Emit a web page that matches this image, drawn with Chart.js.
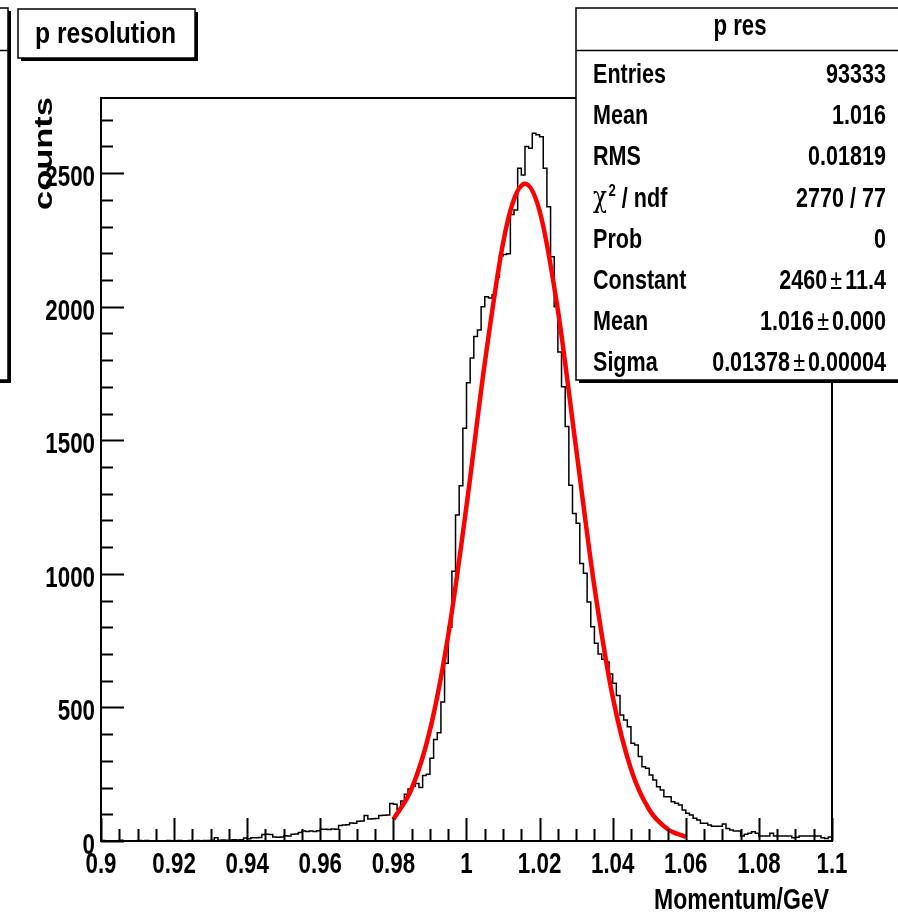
<!DOCTYPE html>
<html>
<head>
<meta charset="utf-8">
<title>p resolution</title>
<script src="https://cdn.jsdelivr.net/npm/chart.js@4.4.1/dist/chart.umd.min.js"></script>
<style>
  html, body { margin: 0; padding: 0; background: #fff; }
  canvas { display: block; }
</style>
</head>
<body>
<canvas id="chart" width="898" height="916"></canvas>
<script>
// histogram: 200 bins from 0.9 to 1.1
const binLow = 0.9;
const binWidth = 0.001;
const counts = [
    2, 1, 0, 1, 0, 3, 1, 0, 0, 1,
    2, 1, 2, 0, 1, 0, 1, 0, 2, 1,
    1, 2, 1, 1, 2, 1, 2, 1, 2, 2,
    3, 12, 3, 4, 3, 4, 5, 4, 5, 11,
    8, 12, 12, 13, 24, 25, 24, 15, 14, 15,
    20, 19, 25, 26, 32, 37, 36, 37, 36, 38,
    44, 44, 43, 45, 44, 58, 60, 61, 67, 66,
    74, 75, 95, 82, 83, 84, 95, 96, 97, 140,
    138, 118, 150, 175, 195, 205, 215, 200, 245, 250,
    310, 380, 405, 520, 665, 800, 1010, 1220, 1330, 1545,
    1715, 1808, 1888, 1913, 2000, 2037, 2032, 2045, 2110, 2190,
    2195, 2198, 2345, 2362, 2518, 2493, 2599, 2593, 2649, 2643,
    2636, 2518, 2374, 2187, 2000, 1830, 1700, 1551, 1332, 1226,
    1189, 1039, 1002, 895, 802, 740, 700, 680, 670, 625,
    590, 545, 472, 453, 428, 366, 359, 316, 278, 272,
    247, 228, 203, 191, 166, 166, 147, 141, 135, 116,
    104, 97, 85, 79, 66, 66, 60, 55, 55, 55,
    64, 47, 41, 37, 37, 19, 25, 29, 35, 29,
    19, 19, 19, 29, 19, 19, 19, 19, 19, 12,
    14, 19, 19, 19, 19, 19, 19, 12, 9, 15
];

// gaussian fit curve
const fitX = [0.980, 0.985, 0.990, 0.995, 1.000, 1.005, 1.010, 1.013, 1.016, 1.020,
    1.025, 1.030, 1.035, 1.040, 1.045, 1.050, 1.055, 1.060];
const fitY = [81, 196, 415, 770, 1254, 1789, 2238, 2402, 2460, 2358,
    1987, 1468, 951, 540, 269, 117, 45, 15];

const xMajorTicks = [0.9, 0.92, 0.94, 0.96, 0.98, 1.0, 1.02, 1.04, 1.06, 1.08, 1.1];
const xTickLabels = ['0.9', '0.92', '0.94', '0.96', '0.98', '1', '1.02', '1.04', '1.06', '1.08', '1.1'];
const yMajorTicks = [0, 500, 1000, 1500, 2000, 2500];
const yTickLabels = ['0', '500', '1000', '1500', '2000', '2500'];

const histTitle = 'p resolution';
const statsTitle = 'p res';
const statLabels = ['Entries', 'Mean', 'RMS', 'chi2', 'Prob', 'Constant', 'Mean', 'Sigma'];
const statValues = [
    ['93333'], ['1.016'], ['0.01819'], ['2770 / 77'], ['0'],
    ['2460', '11.4'], ['1.016', '0.000'], ['0.01378', '0.00004']
];

const CONDENSE = 0.77;
const FONT = '"Liberation Sans", Arial, Helvetica, sans-serif';

function runWidth(ctx, runs, sx) {
    let w = 0;
    for (const r of runs) {
        ctx.font = r.font;
        w += (ctx.measureText(r.text).width + (r.padL || 0) + (r.padR || 0)) * sx;
    }
    return w;
}

// draws pieces of text side by side, squeezed horizontally like the original
function drawRuns(ctx, runs, x, y, align, sx) {
    const w = runWidth(ctx, runs, sx);
    let left = x;
    if (align === 'right') {
        left = x - w;
    }
    else if (align === 'center') {
        left = x - w / 2;
    }
    ctx.save();
    ctx.fillStyle = '#000';
    ctx.textAlign = 'left';
    ctx.textBaseline = 'alphabetic';
    ctx.translate(left, y);
    ctx.scale(sx, 1);
    let pos = 0;
    for (const r of runs) {
        ctx.font = r.font;
        pos += r.padL || 0;
        ctx.fillText(r.text, pos, -(r.rise || 0));
        pos += ctx.measureText(r.text).width + (r.padR || 0);
    }
    ctx.restore();
}

function drawText(ctx, text, x, y, size, align, sx) {
    drawRuns(ctx, [{text, font: `bold ${size}px ${FONT}`}], x, y, align, sx);
}

function drawFitText(ctx, text, x, y, size, align, width) {
    ctx.font = `bold ${size}px ${FONT}`;
    const sx = width / ctx.measureText(text).width;
    drawText(ctx, text, x, y, size, align, sx);
}

function drawBox(ctx, x, y, w, h, shadow) {
    ctx.save();
    ctx.fillStyle = '#000';
    ctx.fillRect(x + shadow, y + shadow, w, h);
    ctx.fillStyle = '#fff';
    ctx.fillRect(x, y, w, h);
    ctx.strokeStyle = '#000';
    ctx.lineWidth = 1.5;
    ctx.strokeRect(x, y, w, h);
    ctx.restore();
}

const rootFrame = {
    id: 'rootFrame',
    afterDatasetsDraw(chart) {
        const ctx = chart.ctx;
        const area = chart.chartArea;
        const xs = chart.scales.x;
        const ys = chart.scales.y;

        ctx.save();
        ctx.strokeStyle = '#000';
        ctx.lineWidth = 2;
        ctx.strokeRect(area.left, area.top, area.right - area.left, area.bottom - area.top);

        // ticks point into the frame
        ctx.beginPath();
        for (let v = 0; v <= ys.max; v += 100) {
            const py = Math.round(ys.getPixelForValue(v)) + 0.5;
            const len = v % 500 === 0 ? 23 : 12;
            ctx.moveTo(area.left, py);
            ctx.lineTo(area.left + len, py);
        }
        for (let i = 0; i <= 40; i++) {
            const v = xs.min + i * 0.005;
            const px = Math.round(xs.getPixelForValue(v)) + 0.5;
            const len = i % 4 === 0 ? 23 : 12;
            ctx.moveTo(px, area.bottom);
            ctx.lineTo(px, area.bottom - len);
        }
        ctx.stroke();
        ctx.restore();

        yMajorTicks.forEach((v, i) => {
            drawText(ctx, yTickLabels[i], area.left - 6, ys.getPixelForValue(v) + 13, 29, 'right', CONDENSE);
        });
        xMajorTicks.forEach((v, i) => {
            drawText(ctx, xTickLabels[i], xs.getPixelForValue(v), area.bottom + 32, 29, 'center', CONDENSE);
        });

        drawFitText(ctx, 'Momentum/GeV', 829, 909, 29, 'right', 175);

        // rotated y title, squeezed across its direction
        ctx.save();
        ctx.font = `bold 34px ${FONT}`;
        ctx.fillStyle = '#000';
        ctx.textAlign = 'right';
        ctx.textBaseline = 'alphabetic';
        ctx.translate(52, 97);
        ctx.rotate(-Math.PI / 2);
        ctx.scale(113 / ctx.measureText('counts').width, 0.75);
        ctx.fillText('counts', 0, 0);
        ctx.restore();

        // title box
        drawBox(ctx, 18, 9, 177, 49, 3);
        drawFitText(ctx, histTitle, 35, 43, 29, 'left', 141);

        // cut-off box at the left edge
        drawBox(ctx, -20, 8, 28, 372, 3);
        ctx.save();
        ctx.lineWidth = 1.5;
        ctx.beginPath();
        ctx.moveTo(0, 50.5);
        ctx.lineTo(8, 50.5);
        ctx.stroke();
        ctx.restore();

        // stats box
        const bx = 576, by = 8, bw = 340, bh = 372;
        drawBox(ctx, bx, by, bw, bh, 3);
        ctx.save();
        ctx.lineWidth = 1.5;
        ctx.beginPath();
        ctx.moveTo(bx, 50.5);
        ctx.lineTo(898, 50.5);
        ctx.stroke();
        ctx.restore();
        drawText(ctx, statsTitle, 740, 35, 30, 'center', 0.74);

        const bold = `bold 28px ${FONT}`;
        const plain = `28px ${FONT}`;
        statLabels.forEach((label, i) => {
            const base = 83 + i * 41.2;
            if (label === 'chi2') {
                drawRuns(ctx, [
                    {text: 'χ', font: `30px "DejaVu Serif", serif`},
                    {text: '2', font: `bold 17px ${FONT}`, rise: 11, padL: 2},
                    {text: ' / ndf', font: bold}
                ], 593, base, 'left', CONDENSE);
            }
            else {
                drawText(ctx, label, 593, base, 28, 'left', CONDENSE);
            }
            const val = statValues[i];
            const runs = [{text: val[0], font: bold}];
            if (val.length > 1) {
                runs.push({text: '±', font: plain, padL: 4, padR: 4});
                runs.push({text: val[1], font: bold});
            }
            drawRuns(ctx, runs, 886, base, 'right', CONDENSE);
        });
    }
};

const histPoints = [{x: binLow, y: counts[0]}];
counts.forEach((c, i) => histPoints.push({x: binLow + (i + 0.5) * binWidth, y: c}));
histPoints.push({x: binLow + counts.length * binWidth, y: counts[counts.length - 1]});

new Chart(document.getElementById('chart'), {
    type: 'line',
    data: {
        datasets: [
            {
                label: 'fit',
                data: fitX.map((x, i) => ({x, y: fitY[i]})),
                borderColor: '#ff0000',
                borderWidth: 4.5,
                cubicInterpolationMode: 'monotone',
                pointRadius: 0,
                fill: false,
                order: 0
            },
            {
                label: 'p res',
                data: histPoints,
                borderColor: '#000000',
                borderWidth: 1.5,
                stepped: 'middle',
                pointRadius: 0,
                fill: false,
                order: 1
            }
        ]
    },
    options: {
        responsive: false,
        animation: false,
        events: [],
        layout: {
            padding: {left: 101, right: 66, top: 98, bottom: 75}
        },
        plugins: {
            legend: {display: false},
            tooltip: {enabled: false}
        },
        scales: {
            x: {type: 'linear', min: 0.9, max: 1.1, display: false},
            y: {min: 0, max: 2781, display: false}
        }
    },
    plugins: [rootFrame]
});
</script>
</body>
</html>
